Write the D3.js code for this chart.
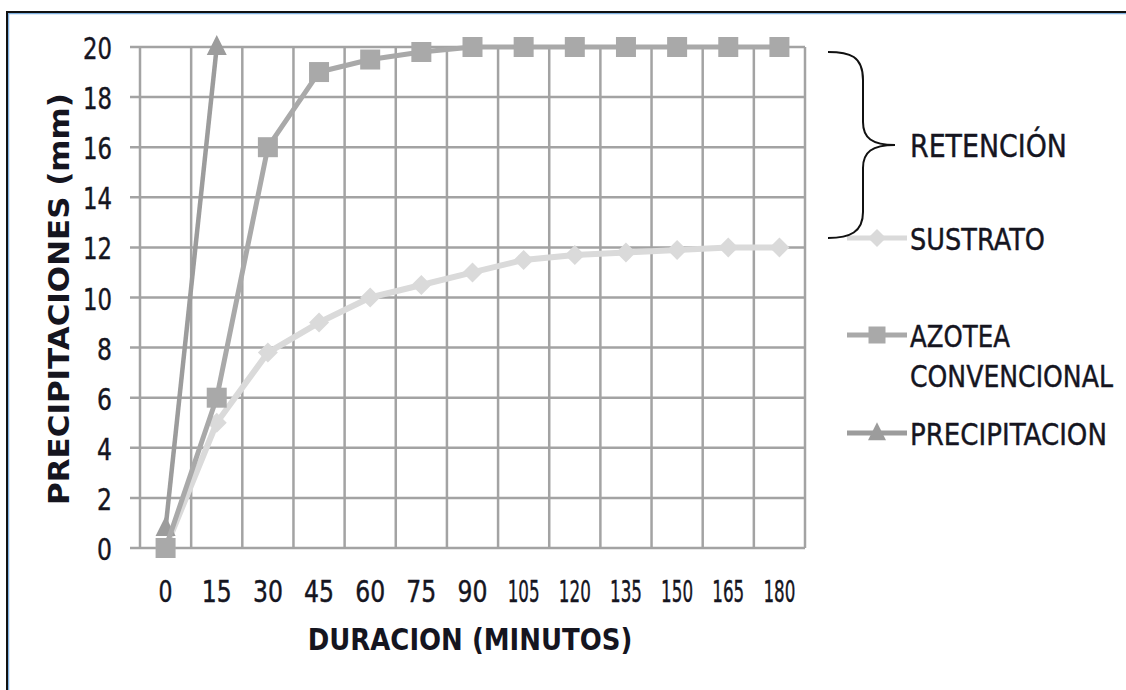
<!DOCTYPE html>
<html>
<head>
<meta charset="utf-8">
<script src="https://cdn.jsdelivr.net/npm/d3@7"></script>
<style>
  body { margin: 0; background: #fff; }
  text { font-family: "DejaVu Sans", sans-serif; fill: #15151f; }
  .reg { stroke: #15151f; stroke-width: 0.45px; }
</style>
</head>
<body>
<script>
// data
var durations = [0, 15, 30, 45, 60, 75, 90, 105, 120, 135, 150, 165, 180]
var sustrato = [0, 5, 7.8, 9, 10, 10.5, 11, 11.5, 11.7, 11.8, 11.9, 12, 12]
var azotea = [0, 6, 16, 19, 19.5, 19.8, 20, 20, 20, 20, 20, 20, 20]
var precipitacion = [0.8, 20]
var yTicks = [0, 2, 4, 6, 8, 10, 12, 14, 16, 18, 20]

var fullWidth = 1126
var fullHeight = 690

var svg = d3
  .select('body')
  .append('svg')
  .attr('width', fullWidth)
  .attr('height', fullHeight)

// squeeze a text horizontally to a given width (the original font is narrow)
function fit(sel, px, py, w, rot) {
  sel.each(function (d, i) {
    var t = d3.select(this)
    var len = this.getComputedTextLength()
    var X = typeof px === 'function' ? px(d, i) : px
    var Y = typeof py === 'function' ? py(d, i) : py
    var W = typeof w === 'function' ? w(d, i) : w
    t.attr('transform', 'translate(' + X + ',' + Y + ')' + (rot ? ' rotate(' + rot + ')' : '') + ' scale(' + W / len + ',1)')
  })
}

// frame
svg.append('rect')
  .attr('x', 8.5).attr('y', 13.5)
  .attr('width', 1200).attr('height', 800)
  .style('fill', 'none').style('stroke', '#7fb0e0').style('stroke-width', 1.5)
svg.append('rect')
  .attr('x', 7).attr('y', 12)
  .attr('width', 1200).attr('height', 800)
  .style('fill', 'none').style('stroke', '#111').style('stroke-width', 2)

var x = d3.scaleBand().domain(durations).range([140, 805]).paddingInner(0).paddingOuter(0)
var y = d3.scaleLinear().domain([0, 20]).range([548, 47])
var cx = (d) => x(d) + x.bandwidth() / 2

var grid = svg.append('g').style('stroke', '#a3a3a3').style('stroke-width', 2.5)
grid.selectAll('.h').data(yTicks).enter().append('line')
  .attr('x1', 130).attr('x2', 805)
  .attr('y1', (d) => y(d)).attr('y2', (d) => y(d))
var vx = durations.map((d) => x(d)).concat([x.range()[1]])
grid.selectAll('.v').data(vx).enter().append('line')
  .attr('x1', (d) => d).attr('x2', (d) => d)
  .attr('y1', y(20)).attr('y2', y(0))

// tick labels
var yl = svg.append('g').selectAll('text').data(yTicks).enter().append('text')
  .attr('class', 'reg')
  .attr('text-anchor', 'end')
  .style('font-size', '31px')
  .text((d) => d)
fit(yl, 112, (d) => y(d) + 12, (d) => (d < 10 ? 15 : 29))

var xl = svg.append('g').selectAll('text').data(durations).enter().append('text')
  .attr('class', 'reg')
  .attr('text-anchor', 'middle')
  .style('font-size', '30px')
  .text((d) => d)
fit(xl, (d) => cx(d), 602, (d) => (d < 10 ? 14 : d < 100 ? 30 : 32))

// axis titles
var xt = svg.append('text')
  .attr('text-anchor', 'middle')
  .style('font-size', '31px').style('font-weight', 'bold')
  .text('DURACION (MINUTOS)')
fit(xt, 470, 650, 325)

var yt = svg.append('text')
  .attr('text-anchor', 'middle')
  .style('font-size', '29px').style('font-weight', 'bold')
  .text('PRECIPITACIONES (mm)')
fit(yt, 69, 299, 412, -90)

// series
var line = d3.line().x((d, i) => cx(durations[i])).y((d) => y(d))

var diamond = (s) => 'M0,' + -s + 'L' + s + ',0L0,' + s + 'L' + -s + ',0Z'
var square = (s) => 'M' + -s + ',' + -s + 'H' + s + 'V' + s + 'H' + -s + 'Z'
var triangle = (s) => 'M0,' + -s * 1.2 + 'L' + s + ',' + s * 0.8 + 'L' + -s + ',' + s * 0.8 + 'Z'

var series = [
  { name: 'sustrato', values: sustrato, color: '#dadada', width: 6, marker: diamond, size: 10 },
  { name: 'precipitacion', values: precipitacion, color: '#9c9c9c', width: 4.5, marker: triangle, size: 10 },
  { name: 'azotea', values: azotea, color: '#a9a9a9', width: 5, marker: square, size: 10 }
]

series.forEach((s) => {
  var g = svg.append('g').attr('class', s.name)
  g.append('path')
    .attr('d', line(s.values))
    .style('fill', 'none').style('stroke', s.color)
    .style('stroke-width', s.width).style('stroke-linejoin', 'round')
  g.selectAll('path.m').data(s.values).enter().append('path')
    .attr('class', 'm')
    .attr('d', s.marker(s.size))
    .attr('transform', (d, i) => 'translate(' + cx(durations[i]) + ',' + y(d) + ')')
    .style('fill', s.color)
})

// legend
var legend = [
  { label: ['SUSTRATO'], y: 238, base: 250, color: '#dadada', marker: diamond, size: 9, w: [135] },
  { label: ['AZOTEA', 'CONVENCIONAL'], y: 335, base: 347, color: '#a9a9a9', marker: square, size: 8.5, w: [100, 203] },
  { label: ['PRECIPITACION'], y: 433, base: 445, color: '#9c9c9c', marker: triangle, size: 9, w: [197] }
]
legend.forEach((l) => {
  svg.append('line')
    .attr('x1', 847).attr('x2', 907).attr('y1', l.y).attr('y2', l.y)
    .style('stroke', l.color).style('stroke-width', 5)
  svg.append('path')
    .attr('d', l.marker(l.size))
    .attr('transform', 'translate(877,' + l.y + ')')
    .style('fill', l.color)
  l.label.forEach((t, i) => {
    var lt = svg.append('text')
      .attr('class', 'reg')
      .style('font-size', '31px')
      .text(t)
    fit(lt, 910, l.base + i * 40, l.w[i])
  })
})

// brace
svg.append('path')
  .attr('d', 'M828,52 C850,52 863,56 863,80 L863,122 C863,138 872,145 895,145 C872,145 863,152 863,168 L863,212 C863,232 850,238 828,238')
  .style('fill', 'none').style('stroke', '#111').style('stroke-width', 2)

var rt = svg.append('text')
  .attr('class', 'reg')
  .style('font-size', '32px')
  .text('RETENCIÓN')
fit(rt, 910, 157, 157)
</script>
</body>
</html>
